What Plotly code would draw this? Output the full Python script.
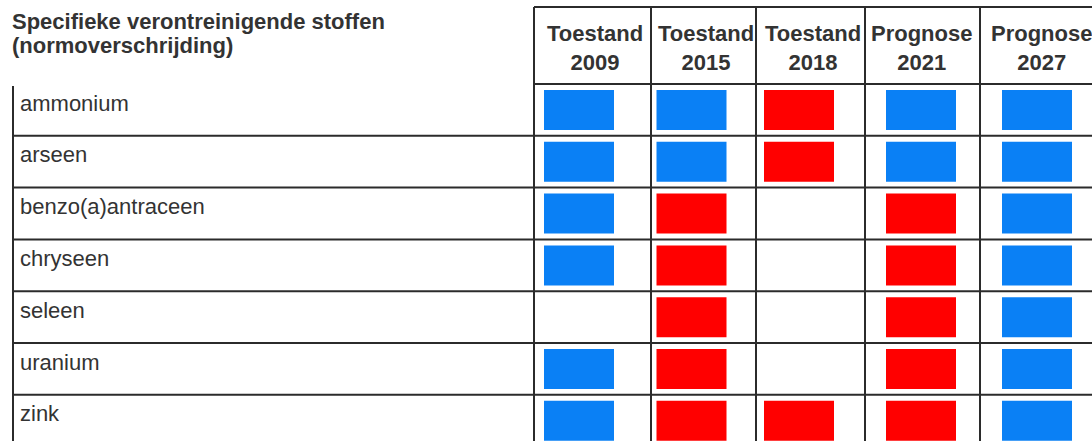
import plotly.graph_objects as go

# table content
substances = ["ammonium", "arseen", "benzo(a)antraceen", "chryseen", "seleen", "uranium", "zink"]
period_kind = ["Toestand", "Toestand", "Toestand", "Prognose", "Prognose"]
years = ["2009", "2015", "2018", "2021", "2027"]

# status per column: "ok" = blue, "over" = red (normoverschrijding), None = empty
toestand_2009 = ["ok", "ok", "ok", "ok", None, "ok", "ok"]
toestand_2015 = ["ok", "ok", "over", "over", "over", "over", "over"]
toestand_2018 = ["over", "over", None, None, None, None, "over"]
prognose_2021 = ["ok", "ok", "over", "over", "over", "over", "over"]
prognose_2027 = ["ok", "ok", "ok", "ok", "ok", "ok", "ok"]

columns = [toestand_2009, toestand_2015, toestand_2018, prognose_2021, prognose_2027]

# layout of the table in pixels
W, H = 1092, 441
col_edges = [534, 651, 756, 865, 980, 1110]
header_x = [595, 706, 813, 921, 1041]
bar_x = [579, 691.5, 799, 921, 1037]
bar_w, bar_h, bar_off = 70, 40, 6
top_y = 7
row_top0 = 84
row_h = 51.8
left_x = 13

colors = {"ok": "#0a80f5", "over": "#ff0000"}
line_col = "#2b2b2b"
text_col = "#333333"
font = "Liberation Sans, Arial, sans-serif"

fig = go.Figure()

for status in ["ok", "over"]:
    xs, bases = [], []
    for c, col in enumerate(columns):
        for r, s in enumerate(col):
            if s == status:
                xs.append(bar_x[c])
                bases.append(row_top0 + r * row_h + bar_off)
    fig.add_trace(go.Bar(
        x=xs, y=[bar_h] * len(xs), base=bases, width=bar_w,
        marker=dict(color=colors[status], line=dict(width=0)),
        hoverinfo="skip", showlegend=False,
    ))

shapes = []
right = col_edges[-1]
# header lines (right part only)
shapes.append(dict(type="line", x0=col_edges[0], x1=right, y0=top_y, y1=top_y))
shapes.append(dict(type="line", x0=col_edges[0], x1=right, y0=row_top0, y1=row_top0))
# row separators
for r in range(1, len(substances) + 1):
    y = row_top0 + r * row_h
    shapes.append(dict(type="line", x0=left_x, x1=right, y0=y, y1=y))
# column lines
for x in col_edges:
    shapes.append(dict(type="line", x0=x, x1=x, y0=top_y, y1=H + 20))
shapes.append(dict(type="line", x0=left_x, x1=left_x, y0=row_top0 + 2, y1=H + 20))
for s in shapes:
    s.update(xref="x", yref="y", line=dict(color=line_col, width=2))

annotations = []
annotations.append(dict(x=10, y=21, text="<b>Specifieke verontreinigende stoffen</b>"))
annotations.append(dict(x=10, y=45, text="<b>(normoverschrijding)</b>"))
for a in annotations:
    a.update(xanchor="left", yanchor="middle")
for r, name in enumerate(substances):
    annotations.append(dict(x=18, y=row_top0 + r * row_h + 19, text=name,
                            xanchor="left", yanchor="middle"))
for c in range(len(years)):
    annotations.append(dict(x=header_x[c], y=48, text="<b>%s<br>%s</b>" % (period_kind[c], years[c]),
                            xanchor="center", yanchor="middle"))
for a in annotations:
    a.update(xref="x", yref="y", showarrow=False,
             font=dict(family=font, size=22, color=text_col))

fig.update_layout(
    width=W, height=H,
    margin=dict(l=0, r=0, t=0, b=0),
    paper_bgcolor="white", plot_bgcolor="white",
    barmode="overlay",
    shapes=shapes, annotations=annotations,
    xaxis=dict(range=[0, W], visible=False, fixedrange=True),
    yaxis=dict(range=[H, 0], visible=False, fixedrange=True),
)

fig.write_html("out.html", config={"displayModeBar": False},
               post_script="document.body.style.margin='0';")
